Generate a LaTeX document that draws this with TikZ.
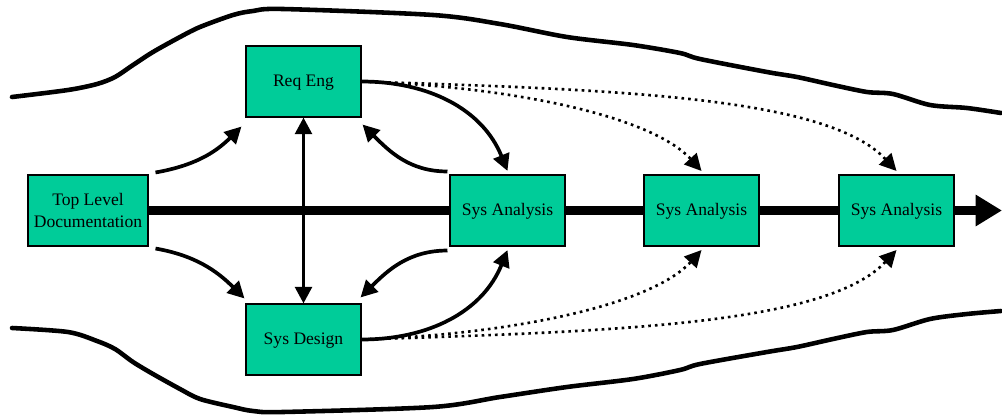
\documentclass[tikz,border=0pt]{standalone}
\usepackage{fontspec}
\setmainfont{Liberation Serif}
\usetikzlibrary{arrows.meta}
\definecolor{boxgreen}{RGB}{0,204,153}

\begin{document}
\begin{tikzpicture}[x=0.02cm,y=0.02cm,
    blk/.style={draw=black,line width=0.6pt,fill=boxgreen,minimum width=2.3cm,minimum height=1.42cm,align=center,inner sep=2pt},
    blkone/.style={blk,text height=1.6ex},
    flow/.style={line width=2.1pt,-{Triangle[length=9.5pt,width=9.5pt]}},
    hint/.style={line width=1.5pt,dash pattern=on 1.5pt off 2.3pt,-{Triangle[length=9.5pt,width=9.5pt]}},
    spine/.style={line width=5pt},
    hull/.style={line width=2.6pt,line join=round,line cap=round}]
    \useasboundingbox (0,0) rectangle (1002,414);

    % the envelope
    \draw[hull] plot[smooth] coordinates {(12,317) (68,324) (97,330) (115,337) (133,349) (153,362) (180,377) (200,387) (233,399) (253,403) (283,405) (433,399) (500,390) (567,377) (633,369) (680,361) (700,355) (767,342) (797,337) (833,329) (867,322) (893,320) (930,309) (967,306) (1001,301)};
    \draw[hull] plot[smooth] coordinates {(12,86) (68,82) (97,73) (115,65) (133,52) (153,40) (180,25) (200,15) (233,7) (253,3) (283,2) (433,7) (500,17) (567,27) (633,35) (680,44) (700,50) (767,62) (797,67) (833,75) (867,82) (893,84) (930,95) (967,100) (1001,103)};

    \node[blk,minimum width=2.4cm] (top) at (88,203.5) {Top Level\\Documentation};
    \node[blkone] (req) at (303.5,332.5) {Req Eng};
    \node[blkone] (design) at (303.5,74.5) {Sys Design};
    \node[blkone] (sa1) at (507.5,203.5) {Sys Analysis};
    \node[blkone] (sa2) at (701.5,203.5) {Sys Analysis};
    \node[blkone] (sa3) at (896.5,203.5) {Sys Analysis};
    \coordinate (out) at (1002,203.5);

    \draw[spine] (top) -- (sa1); \draw[spine] (sa1) -- (sa2); \draw[spine] (sa2) -- (sa3);
    \draw[spine,-{Triangle[length=15pt,width=17pt]}] (sa3) -- (out);
    \draw[flow,{Triangle[length=9.5pt,width=9.5pt]}-{Triangle[length=9.5pt,width=9.5pt]}] (req) -- (design);

    \draw[flow] ([shift={(7,2)}]top.north east) to[out=10,in=225] ([shift={(-4,-9)}]req.south west);
    \draw[flow] ([shift={(7,-2)}]top.south east) to[out=-10,in=135] ([shift={(-1,5)}]design.north west);
    \draw[flow] ([shift={(-2,3)}]sa1.north west) to[out=180,in=-45] ([shift={(1,-7)}]req.south east);
    \draw[flow] ([shift={(-2,-4)}]sa1.south west) to[out=180,in=45] ([shift={(-1,6)}]design.north east);
    \draw[flow] (req.east) to[out=0,in=112] ([yshift=2]sa1.north);
    \draw[flow] (design.east) to[out=0,in=-112] ([yshift=-2]sa1.south);

    \draw[hint] (req.east) .. controls +(150,-5) and +(-50,55) .. ([yshift=2]sa2.north);
    \draw[hint] (req.east) .. controls +(250,-8) and +(-70,75) .. ([yshift=2]sa3.north);
    \draw[hint] (design.east) .. controls +(150,5) and +(-50,-55) .. ([yshift=-2]sa2.south);
    \draw[hint] (design.east) .. controls +(250,8) and +(-70,-75) .. ([yshift=-2]sa3.south);
\end{tikzpicture}
\end{document}
